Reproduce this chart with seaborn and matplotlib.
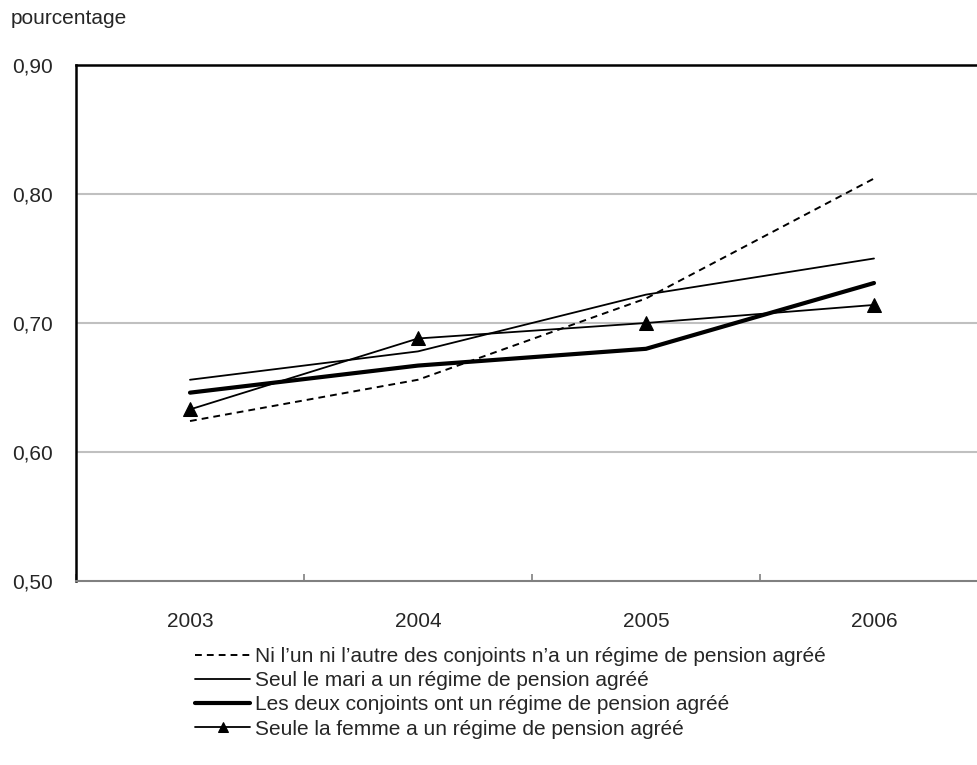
import matplotlib
matplotlib.use("Agg")
import matplotlib.pyplot as plt
import seaborn as sns
import pandas as pd

years = ["2003", "2004", "2005", "2006"]
ni_lun_ni_lautre = [0.624, 0.656, 0.719, 0.812]
seul_le_mari = [0.656, 0.678, 0.722, 0.750]
les_deux = [0.646, 0.667, 0.680, 0.731]
seule_la_femme = [0.633, 0.688, 0.700, 0.714]

labels = [
    "Ni l\u2019un ni l\u2019autre des conjoints n\u2019a un régime de pension agréé",
    "Seul le mari a un régime de pension agréé",
    "Les deux conjoints ont un régime de pension agréé",
    "Seule la femme a un régime de pension agréé",
]
yticks = [0.50, 0.60, 0.70, 0.80, 0.90]
ytick_labels = ["0,50", "0,60", "0,70", "0,80", "0,90"]

sns.set_theme(style="white")
plt.rcParams["font.family"] = ["Liberation Sans", "DejaVu Sans"]

fig = plt.figure(figsize=(9.77, 7.65), dpi=100)
W, H = 977, 765
ax = fig.add_axes([76 / W, 1 - 581 / H, 912 / W, (581 - 65) / H])

series = [ni_lun_ni_lautre, seul_le_mari, les_deux, seule_la_femme]
styles = [
    dict(color="black", linewidth=1.4, linestyle=(0, (3.5, 2.6))),
    dict(color="black", linewidth=1.3),
    dict(color="black", linewidth=3.0),
    dict(color="black", linewidth=1.3, marker="^", markersize=10,
         markerfacecolor="black", markeredgecolor="black"),
]

handles = []
for vals, lab, st in zip(series, labels, styles):
    df = pd.DataFrame({"annee": years, "valeur": vals})
    sns.lineplot(data=df, x="annee", y="valeur", ax=ax, label=lab, **st)
    handles.append(ax.get_lines()[-1])

ax.get_legend().remove()
ax.set_xlim(-0.5, 3.5)
ax.set_ylim(0.5, 0.9)
ax.set_yticks(yticks)
ax.set_yticklabels(ytick_labels, fontsize=15)
ax.set_xlabel("")
ax.set_ylabel("")

# horizontal gridlines
for y in yticks[1:-1]:
    ax.axhline(y, color="#c0c0c0", linewidth=1.5, zorder=0)

# category separators on the bottom axis
ax.set_xticks([-0.5, 0.5, 1.5, 2.5, 3.5], minor=True)
ax.set_xticks(range(len(years)))
ax.set_xticklabels(years, fontsize=15)
ax.tick_params(axis="x", which="major", length=0, pad=22)
ax.tick_params(axis="x", which="minor", direction="in", length=5,
               width=1.2, color="#808080", bottom=True)
ax.tick_params(axis="y", length=0, pad=16.5)

for side in ["left", "top"]:
    ax.spines[side].set_color("black")
    ax.spines[side].set_linewidth(1.8)
ax.spines["bottom"].set_color("#808080")
ax.spines["bottom"].set_linewidth(1.5)
ax.spines["right"].set_visible(False)

fig.text(11 / W, 1 - 18 / H, "pourcentage", fontsize=15, va="center", ha="left")

leg = fig.legend(handles, labels, loc="upper left",
                 bbox_to_anchor=(195 / W, 1 - 647 / H),
                 frameon=False, fontsize=15, handlelength=2.65,
                 handletextpad=0.25, labelspacing=0.25, borderpad=0,
                 borderaxespad=0)
for h in leg.legend_handles:
    if h.get_marker() == "^":
        h.set_markersize(7)

fig.savefig("out.png", dpi=100)
